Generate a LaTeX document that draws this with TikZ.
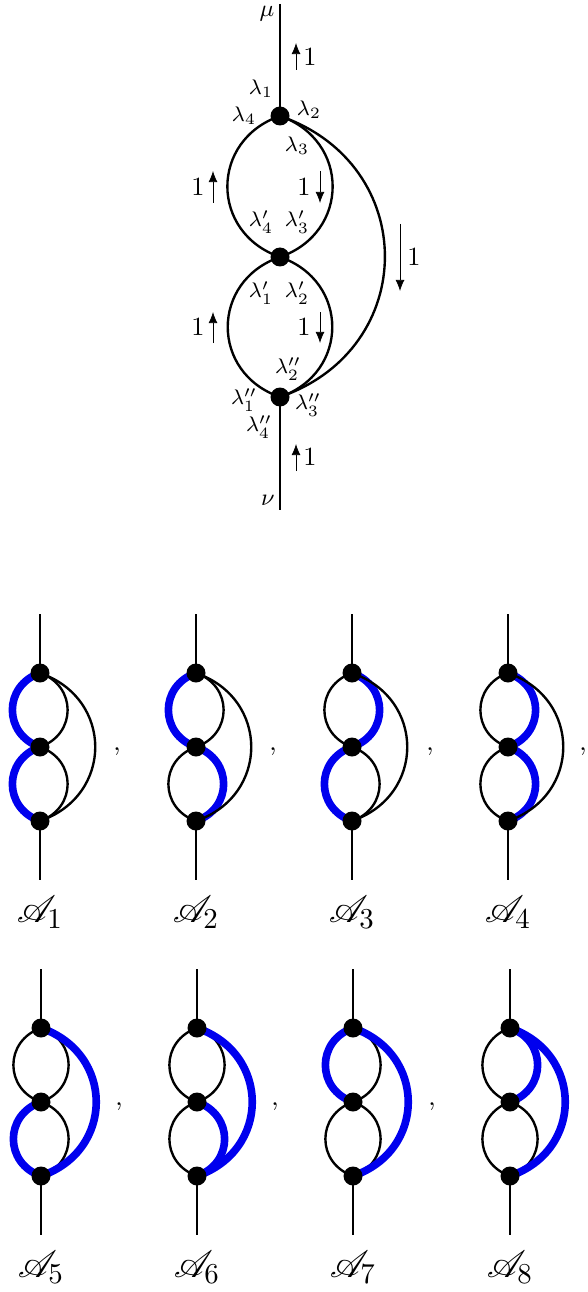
\documentclass[tikz,border=0pt]{standalone}
\usepackage{mathrsfs}
\usetikzlibrary{arrows.meta}
\pgfdeclarelayer{edges}
\pgfsetlayers{edges,main}
\definecolor{pathblue}{RGB}{0,0,238}
\tikzset{
  vertexdot/.style={circle,fill=black,inner sep=0pt,minimum size=19*0.38pt},
  plainedge/.style={draw=black,line width=0.9pt},
  blueedge/.style={draw=pathblue,line width=2.9pt},
  legline/.style={draw=black,line width=0.9pt},
  flowarrow/.style={draw=black,line width=0.3pt,-{Latex[length=4.2pt,width=3.4pt]}},
  lamlabel/.style={inner sep=0pt,font=\footnotesize},
  idxlabel/.style={inner sep=0pt,font=\small},
  numlabel/.style={inner sep=0pt},
  namelabel/.style={inner sep=0pt,font=\fontsize{15}{18}\selectfont},
  leftbow/.style={out=199,in=161,looseness=1.35},
  rightbow/.style={out=-19,in=19,looseness=1.35}
}
% #1 prefix, #2 x, #3 top vertex y, #4 label, #5..#9 styles of the five arcs
\newcommand{\smalldiagram}[9]{%
  \node[vertexdot] (#1t) at (#2,#3) {};
  \node[vertexdot] (#1m) at (#2,#3+74) {};
  \node[vertexdot] (#1b) at (#2,#3+148) {};
  \coordinate (#1u) at (#2,#3-59);
  \coordinate (#1d) at (#2,#3+207);
  \node[namelabel] (#1n) at (#2,#3+239) {$\mathscr{A}_{#4}$};
  \begin{pgfonlayer}{edges}
    \draw[legline] (#1u) -- (#1t.center);
    \draw[legline] (#1b.center) -- (#1d);
    \draw[#5] (#1t.center) to[leftbow] (#1m.center);
    \draw[#6] (#1m.center) to[leftbow] (#1b.center);
    \draw[#7] (#1t.center) to[rightbow] (#1m.center);
    \draw[#8] (#1m.center) to[rightbow] (#1b.center);
    \draw[#9] (#1t.center) to[rightbow] (#1b.center);
  \end{pgfonlayer}
}
\begin{document}
\begin{tikzpicture}[x=0.38pt,y=-0.38pt]
\useasboundingbox (0,0) rectangle (587,1292);
% main diagram
\node[vertexdot] (A) at (280,116) {};
\node[vertexdot] (B) at (280,257) {};
\node[vertexdot] (C) at (280,397) {};
\coordinate (top) at (280,4);
\coordinate (bot) at (280,510);
\begin{pgfonlayer}{edges}
  \draw[legline] (top) -- (A.center);
  \draw[legline] (C.center) -- (bot);
  \draw[plainedge] (A.center) to[leftbow] (B.center);
  \draw[plainedge] (B.center) to[leftbow] (C.center);
  \draw[plainedge] (A.center) to[rightbow] (B.center);
  \draw[plainedge] (B.center) to[rightbow] (C.center);
  \draw[plainedge] (A.center) to[rightbow] (C.center);
\end{pgfonlayer}
% flow arrows
\coordinate (f1s) at (296,70);  \coordinate (f1e) at (296,43);
\coordinate (f2s) at (213,203); \coordinate (f2e) at (213,171);
\coordinate (f3s) at (320,171); \coordinate (f3e) at (320,203);
\coordinate (f4s) at (400,224); \coordinate (f4e) at (400,291);
\coordinate (f5s) at (213,343); \coordinate (f5e) at (213,312);
\coordinate (f6s) at (320,312); \coordinate (f6e) at (320,343);
\coordinate (f7s) at (296,471); \coordinate (f7e) at (296,444);
\foreach \k in {1,...,7} {\draw[flowarrow] (f\k s) -- (f\k e);}
\node[numlabel] (n1) at (310,57) {1};
\node[numlabel] (n2) at (198,187) {1};
\node[numlabel] (n3) at (304,187) {1};
\node[numlabel] (n4) at (414,257) {1};
\node[numlabel] (n5) at (198,327) {1};
\node[numlabel] (n6) at (304,327) {1};
\node[numlabel] (n7) at (310,457) {1};
% index labels
\node[idxlabel] (mu) at (267,14) {$\mu$};
\node[idxlabel] (nu) at (268,500) {$\nu$};
\node[lamlabel] (l1) at (261,89) {$\lambda_1$};
\node[lamlabel] (l2) at (309,110) {$\lambda_2$};
\node[lamlabel] (l3) at (297,146) {$\lambda_3$};
\node[lamlabel] (l4) at (244,116) {$\lambda_4$};
\node[lamlabel] (l4p) at (261,222) {$\lambda'_4$};
\node[lamlabel] (l3p) at (297,222) {$\lambda'_3$};
\node[lamlabel] (l1p) at (261,293) {$\lambda'_1$};
\node[lamlabel] (l2p) at (297,293) {$\lambda'_2$};
\node[lamlabel] (l2pp) at (288,369) {$\lambda''_2$};
\node[lamlabel] (l1pp) at (244,400) {$\lambda''_1$};
\node[lamlabel] (l3pp) at (308,405) {$\lambda''_3$};
\node[lamlabel] (l4pp) at (259,427) {$\lambda''_4$};
% small diagrams
\smalldiagram{a}{40}{673}{1}{blueedge}{blueedge}{plainedge}{plainedge}{plainedge}
\smalldiagram{b}{196}{673}{2}{blueedge}{plainedge}{plainedge}{blueedge}{plainedge}
\smalldiagram{c}{352}{673}{3}{plainedge}{blueedge}{blueedge}{plainedge}{plainedge}
\smalldiagram{d}{508}{673}{4}{plainedge}{plainedge}{blueedge}{blueedge}{plainedge}
\smalldiagram{e}{41}{1028}{5}{plainedge}{blueedge}{plainedge}{plainedge}{blueedge}
\smalldiagram{f}{197}{1028}{6}{plainedge}{plainedge}{plainedge}{blueedge}{blueedge}
\smalldiagram{g}{353}{1028}{7}{blueedge}{plainedge}{plainedge}{plainedge}{blueedge}
\smalldiagram{h}{510}{1028}{8}{plainedge}{plainedge}{blueedge}{plainedge}{blueedge}
% commas
\node[numlabel] (c1) at (117,752) {,};
\node[numlabel] (c2) at (273,752) {,};
\node[numlabel] (c3) at (430,752) {,};
\node[numlabel] (c4) at (583,752) {,};
\node[numlabel] (c5) at (119,1107) {,};
\node[numlabel] (c6) at (275,1107) {,};
\node[numlabel] (c7) at (432,1107) {,};
\end{tikzpicture}
\end{document}
